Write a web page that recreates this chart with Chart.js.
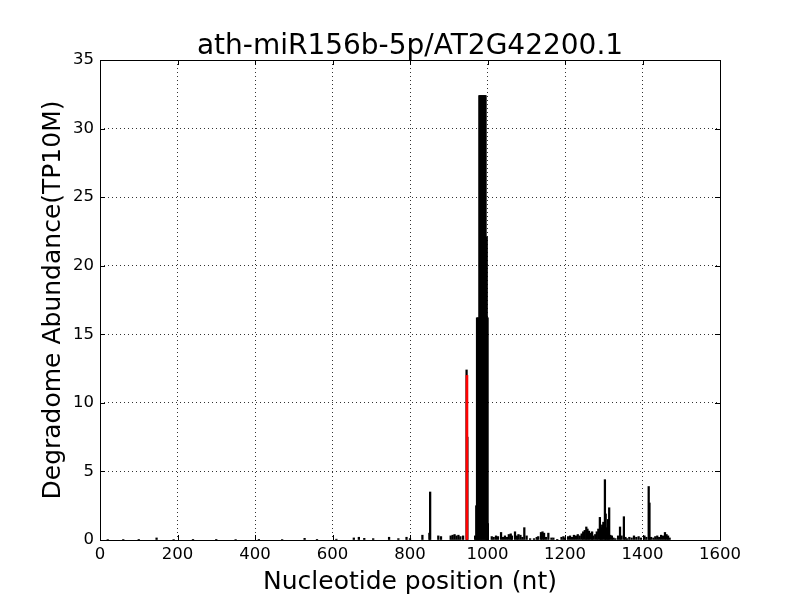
<!DOCTYPE html>
<html>
<head>
<meta charset="utf-8">
<script src="https://cdn.jsdelivr.net/npm/chart.js@4.4.0/dist/chart.umd.min.js"></script>
<style>
  body { margin: 0; background: #fff; }
</style>
</head>
<body>
<canvas id="chart" width="800" height="600"></canvas>
<script>
var title = "ath-miR156b-5p/AT2G42200.1"
var xLabel = "Nucleotide position (nt)"
var yLabel = "Degradome Abundance(TP10M)"

// position in nt -> abundance
var blackPos = [20, 60, 100, 146, 190, 240, 300, 350, 410, 470, 528, 560, 610, 655, 668, 682, 705, 746, 770, 791, 800,
  832, 850, 852, 873, 880, 905, 910, 915, 920, 925, 930, 937, 946, 948, 968,
  971, 973, 975, 977, 979, 981, 983, 985, 987, 989, 991, 993, 995, 997, 998, 999, 1000, 1001,
  1011, 1016, 1022, 1027, 1035, 1040, 1045, 1050, 1055, 1060, 1063, 1071, 1076, 1080, 1085, 1090, 1095, 1101,
  1110, 1120, 1127, 1131, 1138, 1142, 1146, 1151, 1157, 1165, 1170, 1180, 1191, 1196, 1200, 1208, 1213, 1218,
  1223, 1228, 1233, 1238, 1243, 1247, 1251, 1255, 1258, 1262, 1266, 1270, 1273, 1278, 1282, 1286, 1290, 1293,
  1296, 1299, 1303, 1305, 1308, 1311, 1314, 1317, 1321, 1325, 1330, 1337, 1342, 1346, 1352, 1356, 1360, 1366,
  1372, 1378, 1384, 1390, 1396, 1405, 1410, 1416, 1418, 1422, 1428, 1433, 1438, 1443, 1448, 1453, 1458, 1462,
  1466, 1470]
var blackVal = [0.04, 0.03, 0.05, 0.15, 0.04, 0.05, 0.05, 0.04, 0.05, 0.04, 0.12, 0.05, 0.06, 0.15, 0.2, 0.12, 0.1, 0.2, 0.1, 0.2, 0.1,
  0.35, 0.5, 3.5, 0.3, 0.25, 0.3, 0.35, 0.4, 0.3, 0.35, 0.25, 0.3, 12.4, 7.5, 0.3,
  2.5, 16.2, 16.2, 16.2, 32.4, 32.4, 32.4, 32.4, 32.4, 32.4, 32.4, 32.4, 32.4, 16.2, 22.1, 16.2, 16.2, 1.2,
  0.25, 0.2, 0.3, 0.25, 0.55, 0.2, 0.3, 0.2, 0.4, 0.45, 0.3, 0.6, 0.3, 0.4, 0.35, 0.2, 0.9, 0.3,
  0.1, 0.1, 0.2, 0.25, 0.55, 0.6, 0.5, 0.2, 0.5, 0.15, 0.15, 0.05, 0.2, 0.25, 0.15, 0.25, 0.3, 0.2,
  0.35, 0.3, 0.4, 0.3, 0.45, 0.6, 0.7, 0.95, 0.8, 0.65, 0.5, 0.6, 0.3, 0.4, 0.6, 0.8, 1.65, 0.9,
  1.1, 1.3, 4.4, 1.9, 0.9, 1.5, 2.35, 0.35, 0.3, 0.15, 0.1, 0.3, 0.95, 0.3, 1.7, 0.2, 0.1, 0.2,
  0.15, 0.3, 0.2, 0.25, 0.15, 0.3, 0.2, 3.9, 2.7, 0.2, 0.15, 0.25, 0.3, 0.2, 0.35, 0.3, 0.55, 0.4,
  0.3, 0.15]
var redPos = [947]
var redVal = [12.0]

var xTicks = [0, 200, 400, 600, 800, 1000, 1200, 1400, 1600]
var yTicks = [0, 5, 10, 15, 20, 25, 30, 35]

function toPoints(xs, ys){
  var pts = []
  for (var i = 0; i < xs.length; i++) pts.push({x: xs[i], y: ys[i]})
  return pts
}

// title over the plot, box around it and inward ticks on all four sides
var frame = {
  id: 'frame',
  afterDraw: function(chart){
    var ctx = chart.ctx
    var a = chart.chartArea
    var xs = chart.scales.x, ys = chart.scales.y
    ctx.save()
    ctx.fillStyle = '#000'
    ctx.font = '28px "DejaVu Sans"'
    ctx.textAlign = 'center'
    ctx.textBaseline = 'alphabetic'
    ctx.fillText(title, (a.left + a.right) / 2, 54)

    ctx.strokeStyle = '#000'
    ctx.lineWidth = 1
    ctx.beginPath()
    xTicks.forEach(function(v){
      var px = Math.round(xs.getPixelForValue(v)) + 0.5
      ctx.moveTo(px, a.bottom); ctx.lineTo(px, a.bottom - 5)
      ctx.moveTo(px, a.top); ctx.lineTo(px, a.top + 5)
    })
    yTicks.forEach(function(v){
      var py = Math.round(ys.getPixelForValue(v)) + 0.5
      ctx.moveTo(a.left, py); ctx.lineTo(a.left + 5, py)
      ctx.moveTo(a.right, py); ctx.lineTo(a.right - 5, py)
    })
    ctx.stroke()
    ctx.strokeRect(Math.round(a.left) + 0.5, Math.round(a.top) + 0.5, Math.round(a.right - a.left), Math.round(a.bottom - a.top))
    ctx.restore()
  }
}

var gridStyle = {
  color: '#333',
  lineWidth: 1,
  drawTicks: false,
  offset: false
}

var ctx = document.getElementById("chart")
var chart = new Chart(ctx, {
  type: 'bar',
  data: {
    datasets: [{
      data: toPoints(blackPos, blackVal),
      backgroundColor: '#000',
      borderWidth: 0,
      barThickness: 1.6,
      order: 1
    }, {
      data: toPoints(redPos, redVal),
      backgroundColor: '#ff0000',
      borderWidth: 0,
      barThickness: 2,
      order: 0
    }]
  },
  options: {
    responsive: false,
    animation: false,
    grouped: false,
    layout: { padding: { left: 0, right: 80, top: 60, bottom: 0 } },
    plugins: {
      legend: { display: false },
      tooltip: { enabled: false },
      title: { display: false }
    },
    scales: {
      x: {
        type: 'linear',
        min: 0,
        max: 1600,
        offset: false,
        grid: gridStyle,
        border: { display: false, dash: [1, 3] },
        afterFit: function(s){ s.height = 60 },
        afterBuildTicks: function(s){ s.ticks = xTicks.map(function(v){ return {value: v} }) },
        ticks: {
          color: '#000',
          padding: 5,
          maxRotation: 0,
          font: { family: 'DejaVu Sans', size: 16.5 },
          callback: function(v){ return String(v) }
        },
        title: {
          display: true,
          text: xLabel,
          color: '#000',
          font: { family: 'DejaVu Sans', size: 25, lineHeight: 1 },
          padding: { top: 5, bottom: 5 }
        }
      },
      y: {
        min: 0,
        max: 35,
        grid: gridStyle,
        border: { display: false, dash: [1, 3] },
        afterFit: function(s){ s.width = 100 },
        afterBuildTicks: function(s){ s.ticks = yTicks.map(function(v){ return {value: v} }) },
        ticks: {
          color: '#000',
          padding: 6,
          font: { family: 'DejaVu Sans', size: 16.5 },
          callback: function(v){ return String(v) }
        },
        title: {
          display: true,
          text: yLabel,
          color: '#000',
          font: { family: 'DejaVu Sans', size: 25, lineHeight: 1 },
          padding: { top: 41, bottom: 41 }
        }
      }
    }
  },
  plugins: [frame]
})
</script>
</body>
</html>
